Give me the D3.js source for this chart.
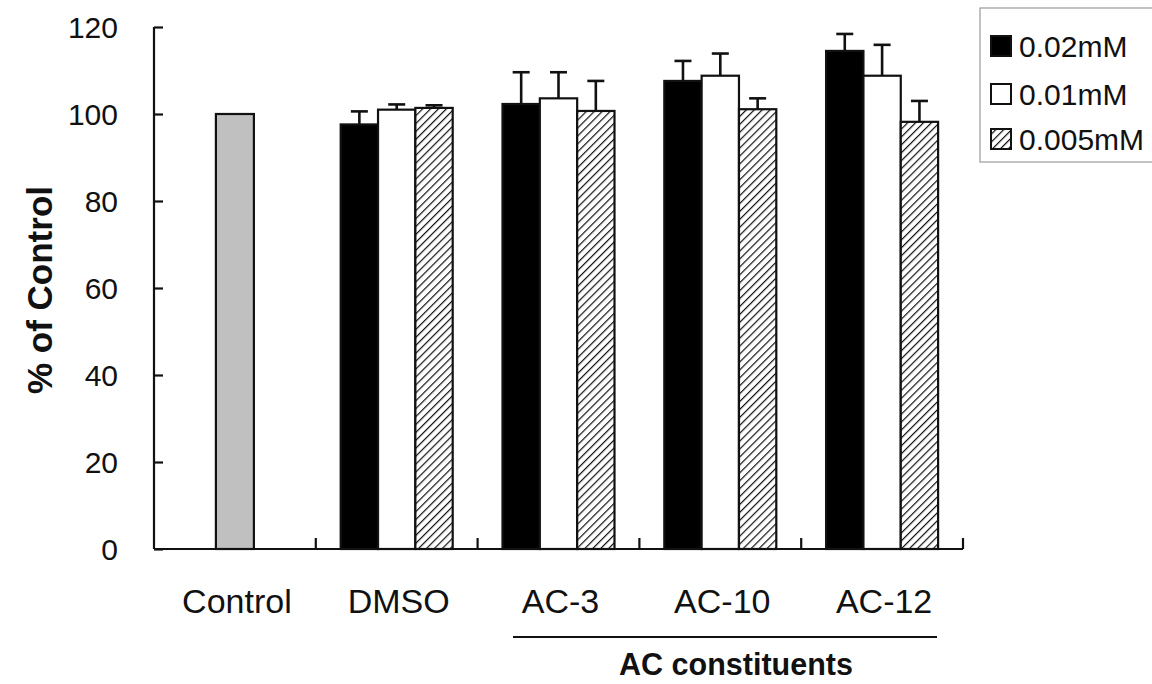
<!DOCTYPE html>
<html>
<head>
<meta charset="utf-8">
<script src="https://cdn.jsdelivr.net/npm/d3@7"></script>
<style>
  html, body { margin: 0; padding: 0; background: #fff; }
  svg text { font-family: "Liberation Sans", Arial, sans-serif; fill: #111; }
</style>
</head>
<body>
<svg id="chart" width="1152" height="684"></svg>
<script>
// Cell viability (% of control) for the treatment groups
const categories = ["Control", "DMSO", "AC-3", "AC-10", "AC-12"];
const concentrations = ["0.02mM", "0.01mM", "0.005mM"];

const controlValue = 100;
// Per-concentration means for the grouped categories (DMSO, AC-3, AC-10, AC-12)
const groupedCategories = ["DMSO", "AC-3", "AC-10", "AC-12"];
const mean002 = [97.6, 102.3, 107.6, 114.5];
const mean001 = [101.0, 103.6, 108.8, 108.8];
const mean0005 = [101.4, 100.7, 101.1, 98.2];
// Upper error (SD) values
const sd002 = [3.0, 7.3, 4.6, 3.9];
const sd001 = [1.2, 6.0, 5.1, 7.1];
const sd0005 = [0.6, 6.9, 2.5, 4.8];

const yTicks = [0, 20, 40, 60, 80, 100, 120];

const svg = d3.select("#chart");

// Hatch pattern for the lowest concentration
const defs = svg.append("defs");
const pat = defs.append("pattern")
  .attr("id", "hatch")
  .attr("patternUnits", "userSpaceOnUse")
  .attr("width", 5.6).attr("height", 5.6)
  .attr("patternTransform", "rotate(45)");
pat.append("rect").attr("width", 5.6).attr("height", 5.6).attr("fill", "#fff");
pat.append("line").attr("x1", 0).attr("y1", 0).attr("x2", 0).attr("y2", 5.6)
  .attr("stroke", "#111").attr("stroke-width", 2.4);

const margin = { left: 154, right: 963, top: 27, bottom: 549 };

const x = d3.scaleBand().domain(categories).range([margin.left, margin.right]).padding(0);
const y = d3.scaleLinear().domain([0, 120]).range([margin.bottom, margin.top]);

const groupWidth = 112;
const xInner = d3.scaleBand().domain(concentrations)
  .range([-groupWidth / 2, groupWidth / 2]).padding(0);

const fills = { "0.02mM": "#000", "0.01mM": "#fff", "0.005mM": "url(#hatch)" };

// Flatten grouped data
const series = [
  { key: "0.02mM", means: mean002, sds: sd002 },
  { key: "0.01mM", means: mean001, sds: sd001 },
  { key: "0.005mM", means: mean0005, sds: sd0005 }
];
const bars = [];
series.forEach(s => {
  groupedCategories.forEach((c, i) => {
    bars.push({ cat: c, conc: s.key, value: s.means[i], sd: s.sds[i] });
  });
});

const plot = svg.append("g");

// Error bars (upper only) drawn before the bars
const errG = plot.append("g").attr("stroke", "#111").attr("stroke-width", 2.6);
bars.forEach(d => {
  const cx = x(d.cat) + x.bandwidth() / 2 + xInner(d.conc) + xInner.bandwidth() / 2;
  errG.append("line").attr("x1", cx).attr("x2", cx)
    .attr("y1", y(d.value)).attr("y2", y(d.value + d.sd));
  errG.append("line").attr("x1", cx - 8.5).attr("x2", cx + 8.5)
    .attr("y1", y(d.value + d.sd)).attr("y2", y(d.value + d.sd));
});

// Control bar
const ctrlW = 38;
plot.append("rect")
  .attr("x", x("Control") + x.bandwidth() / 2 - ctrlW / 2)
  .attr("y", y(controlValue))
  .attr("width", ctrlW)
  .attr("height", y(0) - y(controlValue))
  .attr("fill", "#c0c0c0")
  .attr("stroke", "#111").attr("stroke-width", 2.2);

// Grouped bars
plot.append("g").selectAll("rect").data(bars).join("rect")
  .attr("x", d => x(d.cat) + x.bandwidth() / 2 + xInner(d.conc))
  .attr("y", d => y(d.value))
  .attr("width", xInner.bandwidth())
  .attr("height", d => y(0) - y(d.value))
  .attr("fill", d => fills[d.conc])
  .attr("stroke", "#111").attr("stroke-width", 2.2);

// Y axis with inward ticks
const yAxis = svg.append("g")
  .attr("transform", `translate(${margin.left},0)`)
  .call(d3.axisRight(y).tickValues(yTicks).tickSize(9).tickFormat(""));
yAxis.select(".domain").attr("stroke", "#111").attr("stroke-width", 2.2)
  .attr("d", `M0,${margin.top}V${margin.bottom}`);
yAxis.selectAll(".tick line").attr("stroke", "#111").attr("stroke-width", 2.2);

svg.append("g").selectAll("text").data(yTicks).join("text")
  .attr("x", 118).attr("y", d => y(d))
  .attr("dy", "0.36em")
  .attr("text-anchor", "end")
  .attr("font-size", 30)
  .text(d => d);

// X axis with inward ticks between categories
const xAxis = svg.append("g");
xAxis.append("line")
  .attr("x1", margin.left).attr("x2", margin.right)
  .attr("y1", y(0)).attr("y2", y(0))
  .attr("stroke", "#111").attr("stroke-width", 2.2);
const boundaries = categories.slice(1).map(c => x(c)).concat([margin.right]);
xAxis.selectAll("line.tk").data(boundaries).join("line")
  .attr("class", "tk")
  .attr("x1", d => d).attr("x2", d => d)
  .attr("y1", y(0)).attr("y2", y(0) - 11)
  .attr("stroke", "#111").attr("stroke-width", 2.2);

svg.append("g").selectAll("text").data(categories).join("text")
  .attr("x", d => x(d) + x.bandwidth() / 2 + 2)
  .attr("y", 613)
  .attr("text-anchor", "middle")
  .attr("font-size", 34)
  .text(d => d);

// Bracket and label for the AC constituents
svg.append("line")
  .attr("x1", 513).attr("x2", 937)
  .attr("y1", 637).attr("y2", 637)
  .attr("stroke", "#111").attr("stroke-width", 2.2);
svg.append("text")
  .attr("x", 736).attr("y", 675)
  .attr("text-anchor", "middle")
  .attr("font-size", 30.5).attr("font-weight", "bold")
  .text("AC constituents");

// Y axis title
svg.append("text")
  .attr("transform", "translate(52,290) rotate(-90)")
  .attr("text-anchor", "middle")
  .attr("font-size", 35).attr("font-weight", "bold")
  .text("% of Control");

// Legend
const legend = svg.append("g");
legend.append("rect")
  .attr("x", 980).attr("y", 8).attr("width", 185).attr("height", 154)
  .attr("fill", "#fff").attr("stroke", "#999").attr("stroke-width", 1.2);
const legY = [46, 94, 139];
concentrations.forEach((c, i) => {
  legend.append("rect")
    .attr("x", 991).attr("y", legY[i] - 10).attr("width", 20).attr("height", 20)
    .attr("fill", fills[c]).attr("stroke", "#111").attr("stroke-width", 2);
  legend.append("text")
    .attr("x", 1019).attr("y", legY[i])
    .attr("dy", "0.36em")
    .attr("font-size", 30)
    .text(c);
});
</script>
</body>
</html>
